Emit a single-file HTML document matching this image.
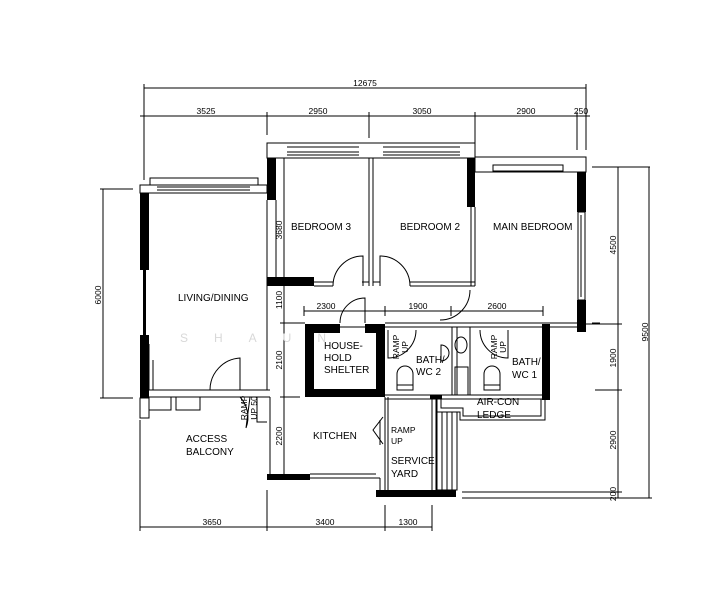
<!DOCTYPE html>
<html><head><meta charset="utf-8"><style>
html,body{margin:0;padding:0;background:#fff;}
svg{display:block;}
text{font-family:"Liberation Sans",sans-serif;fill:#000;}
.t{font-size:10px;}
.d{font-size:8.5px;}
</style></head><body>
<svg width="712" height="600" viewBox="0 0 712 600" xmlns="http://www.w3.org/2000/svg">
<g stroke="#000" stroke-width="1" fill="none">
<!-- top dims -->
<line x1="144" y1="88" x2="586" y2="88"/>
<line x1="144" y1="84" x2="144" y2="180"/><line x1="586" y1="84" x2="586" y2="150"/>
<line x1="140" y1="116" x2="590" y2="116"/>
<line x1="267" y1="112" x2="267" y2="135"/><line x1="369" y1="112" x2="369" y2="138"/>
<line x1="475" y1="112" x2="475" y2="150"/><line x1="577" y1="112" x2="577" y2="150"/>
<!-- right dims -->
<line x1="592" y1="167" x2="650" y2="167"/>
<line x1="618" y1="167" x2="618" y2="498"/>
<line x1="649" y1="167" x2="649" y2="498"/>
<line x1="580" y1="324" x2="622" y2="324"/>
<line x1="595" y1="390" x2="622" y2="390"/>
<line x1="462" y1="492" x2="622" y2="492"/>
<line x1="462" y1="498" x2="652" y2="498"/>
<!-- left dim -->
<line x1="103" y1="189" x2="103" y2="398"/>
<line x1="100" y1="189" x2="133" y2="189"/><line x1="100" y1="398" x2="133" y2="398"/>
<!-- bottom dim -->
<line x1="140" y1="527" x2="432" y2="527"/>
<line x1="140" y1="420" x2="140" y2="531"/><line x1="267" y1="490" x2="267" y2="531"/>
<line x1="385" y1="505" x2="385" y2="531"/><line x1="432" y1="505" x2="432" y2="531"/>
<!-- inner dim 2300/1900/2600 -->
<line x1="304" y1="311" x2="543" y2="311"/>
<line x1="304" y1="306" x2="304" y2="316"/><line x1="385" y1="306" x2="385" y2="316"/>
<line x1="451" y1="306" x2="451" y2="316"/><line x1="543" y1="306" x2="543" y2="316"/>
<!-- vertical dim at 284 -->
<line x1="284" y1="158" x2="284" y2="475"/>
<line x1="280" y1="323" x2="300" y2="323"/><line x1="280" y1="397" x2="300" y2="397"/>

<!-- living top -->
<rect x="140" y="185" width="127" height="8"/>
<rect x="150" y="178" width="108" height="7"/>
<line x1="157" y1="187" x2="250" y2="187"/><line x1="157" y1="190" x2="250" y2="190"/>
<!-- bedrooms top -->
<rect x="267" y="143" width="208" height="15"/>
<line x1="287" y1="147" x2="359" y2="147"/><line x1="287" y1="152" x2="359" y2="152"/><line x1="287" y1="155" x2="359" y2="155"/>
<line x1="383" y1="147" x2="460" y2="147"/><line x1="383" y1="152" x2="460" y2="152"/><line x1="383" y1="155" x2="460" y2="155"/>
<!-- main bedroom top -->
<rect x="475" y="157" width="111" height="15"/>
<rect x="493" y="165" width="70" height="6"/>
<!-- right window -->
<rect x="578" y="212" width="7" height="88"/><line x1="581" y1="215" x2="581" y2="297"/>
<!-- left living wall thin -->
<line x1="145" y1="270" x2="145" y2="335"/>
<rect x="140" y="398" width="9" height="20"/>
<!-- bedroom walls -->
<line x1="284" y1="158" x2="284" y2="286"/>
<line x1="369" y1="158" x2="369" y2="286"/><line x1="373" y1="158" x2="373" y2="286"/>
<line x1="475" y1="207" x2="475" y2="286"/><line x1="471" y1="207" x2="471" y2="286"/>
<line x1="267" y1="200" x2="267" y2="390"/><line x1="276" y1="200" x2="276" y2="277"/>
<line x1="314" y1="282" x2="333" y2="282"/><line x1="314" y1="286" x2="333" y2="286"/>
<line x1="410" y1="282" x2="475" y2="282"/><line x1="410" y1="286" x2="475" y2="286"/>
<line x1="362" y1="282" x2="369" y2="282"/><line x1="373" y1="282" x2="380" y2="282"/>
<!-- doors bedrooms -->
<path d="M333 286 A30 30 0 0 1 363 256 L363 286"/>
<path d="M410 286 A30 30 0 0 0 380 256 L380 286"/>
<path d="M470 290 A30 30 0 0 1 440 320"/>
<!-- corridor horizontals -->
<line x1="280" y1="323" x2="305" y2="323"/>
<line x1="385" y1="323" x2="577" y2="323"/><line x1="385" y1="327" x2="577" y2="327"/>
<line x1="592" y1="323" x2="600" y2="323"/>
<!-- shelter door -->
<path d="M340 323 A25 25 0 0 1 365 298 L365 323"/>
<line x1="340" y1="327" x2="365" y2="327"/>
<!-- bath dividers -->
<line x1="452" y1="327" x2="452" y2="395"/><line x1="470" y1="327" x2="470" y2="395"/><line x1="457" y1="327" x2="457" y2="395"/>
<rect x="455" y="367" width="13" height="28"/>
<ellipse cx="461" cy="345" rx="6" ry="8"/>
<!-- toilets -->
<path d="M397 385 L397 374 A8 8 0 0 1 413 374 L413 385 Z"/><rect x="397" y="385" width="16" height="5"/>
<path d="M484 385 L484 374 A8 8 0 0 1 500 374 L500 385 Z"/><rect x="484" y="385" width="16" height="5"/>
<path d="M441 345 A8 8 0 1 1 441 361 Z"/>
<!-- bath doors -->
<path d="M388 330 L388 358 A28 28 0 0 0 416 330"/>
<path d="M508 330 L508 358 A28 28 0 0 1 480 330"/>
<line x1="385" y1="395" x2="542" y2="395"/><line x1="385" y1="399" x2="542" y2="399"/>
<!-- air-con ledge -->
<path d="M437 399 L437 412 L460 412 L460 420 L545 420 L545 399"/>
<path d="M441 399 L441 408 L463 408 L463 416 L541 416 L541 399"/>
<!-- service yard -->
<line x1="385" y1="397" x2="385" y2="490"/><line x1="388" y1="397" x2="388" y2="490"/>
<line x1="432" y1="399" x2="432" y2="490"/><line x1="436" y1="399" x2="436" y2="490"/>
<rect x="437" y="412" width="20" height="78"/>
<line x1="442" y1="412" x2="442" y2="490"/><line x1="447" y1="412" x2="447" y2="490"/><line x1="452" y1="412" x2="452" y2="490"/>
<path d="M383 417 L373 430 L383 444"/><line x1="380" y1="420" x2="380" y2="445"/>
<!-- kitchen -->
<line x1="310" y1="474" x2="376" y2="474"/><line x1="310" y1="478" x2="380" y2="478"/><line x1="380" y1="478" x2="380" y2="490"/>
<line x1="270" y1="397" x2="270" y2="474"/>
<!-- living bottom / balcony -->
<line x1="149" y1="390" x2="270" y2="390"/><line x1="149" y1="397" x2="270" y2="397"/>
<path d="M149 397 L149 410 L171 410 L171 397"/><path d="M176 397 L176 410 L200 410 L200 397"/>
<path d="M257 397 L257 422 L267 422"/>
<path d="M210 390 A32 32 0 0 1 240 358 L240 390"/>
<path d="M212 397 L240 397 A30 30 0 0 1 246 428 L250 397"/>
<line x1="149" y1="344" x2="149" y2="390"/><line x1="153" y1="360" x2="153" y2="390"/>
<!-- bottom right lines -->
<line x1="462" y1="492" x2="600" y2="492"/>
</g>
<g fill="#000">
<rect x="140" y="193" width="9" height="77"/>
<rect x="140" y="335" width="9" height="63"/>
<rect x="143" y="270" width="3" height="65"/>
<rect x="267" y="158" width="9" height="42"/>
<rect x="267" y="277" width="47" height="9"/>
<rect x="467" y="158" width="8" height="49"/>
<rect x="577" y="172" width="9" height="40"/>
<rect x="577" y="300" width="9" height="32"/>
<rect x="542" y="324" width="8" height="76"/>
<rect x="267" y="474" width="43" height="6"/>
<rect x="376" y="490" width="80" height="7"/>
<rect x="430" y="395" width="12" height="4"/>
<path d="M305 324 H340 V333 H314 V389 H376 V333 H365 V324 H385 V397 H305 Z"/>
</g>
<g class="d">
<text x="365" y="86" text-anchor="middle">12675</text>
<text x="206" y="114" text-anchor="middle">3525</text>
<text x="318" y="114" text-anchor="middle">2950</text>
<text x="422" y="114" text-anchor="middle">3050</text>
<text x="526" y="114" text-anchor="middle">2900</text>
<text x="581" y="114" text-anchor="middle">250</text>
<text x="326" y="309" text-anchor="middle">2300</text>
<text x="418" y="309" text-anchor="middle">1900</text>
<text x="497" y="309" text-anchor="middle">2600</text>
<text x="212" y="525" text-anchor="middle">3650</text>
<text x="325" y="525" text-anchor="middle">3400</text>
<text x="408" y="525" text-anchor="middle">1300</text>
<text transform="translate(101 295) rotate(-90)" text-anchor="middle">6000</text>
<text transform="translate(282 230) rotate(-90)" text-anchor="middle">3680</text>
<text transform="translate(282 300) rotate(-90)" text-anchor="middle">1100</text>
<text transform="translate(282 360) rotate(-90)" text-anchor="middle">2100</text>
<text transform="translate(282 436) rotate(-90)" text-anchor="middle">2200</text>
<text transform="translate(616 245) rotate(-90)" text-anchor="middle">4500</text>
<text transform="translate(616 358) rotate(-90)" text-anchor="middle">1900</text>
<text transform="translate(616 440) rotate(-90)" text-anchor="middle">2900</text>
<text transform="translate(616 494) rotate(-90)" text-anchor="middle">200</text>
<text transform="translate(648 332) rotate(-90)" text-anchor="middle">9500</text>
<text transform="translate(247 408) rotate(-90)" text-anchor="middle">RAMP</text>
<text transform="translate(257 408) rotate(-90)" text-anchor="middle">UP 50</text>
<text transform="translate(399 347) rotate(-90)" text-anchor="middle">RAMP</text>
<text transform="translate(408 347) rotate(-90)" text-anchor="middle">UP</text>
<text transform="translate(497 347) rotate(-90)" text-anchor="middle">RAMP</text>
<text transform="translate(506 347) rotate(-90)" text-anchor="middle">UP</text>
<text x="391" y="433">RAMP</text>
<text x="391" y="444">UP</text>
</g>
<g class="t">
<text x="291" y="230">BEDROOM 3</text>
<text x="400" y="230">BEDROOM 2</text>
<text x="493" y="230">MAIN BEDROOM</text>
<text x="178" y="301">LIVING/DINING</text>
<text x="324" y="349">HOUSE-</text>
<text x="324" y="361">HOLD</text>
<text x="324" y="373">SHELTER</text>
<text x="416" y="363">BATH/</text>
<text x="416" y="375">WC 2</text>
<text x="512" y="365">BATH/</text>
<text x="512" y="378">WC 1</text>
<text x="477" y="405">AIR-CON</text>
<text x="477" y="418">LEDGE</text>
<text x="313" y="439">KITCHEN</text>
<text x="391" y="464">SERVICE</text>
<text x="391" y="477">YARD</text>
<text x="186" y="442">ACCESS</text>
<text x="186" y="455">BALCONY</text>
</g>
<text x="180" y="342" font-size="12" fill="#ccc" style="fill:#d8d8d8;letter-spacing:26px">SHAUN</text>
</svg>
</body></html>
